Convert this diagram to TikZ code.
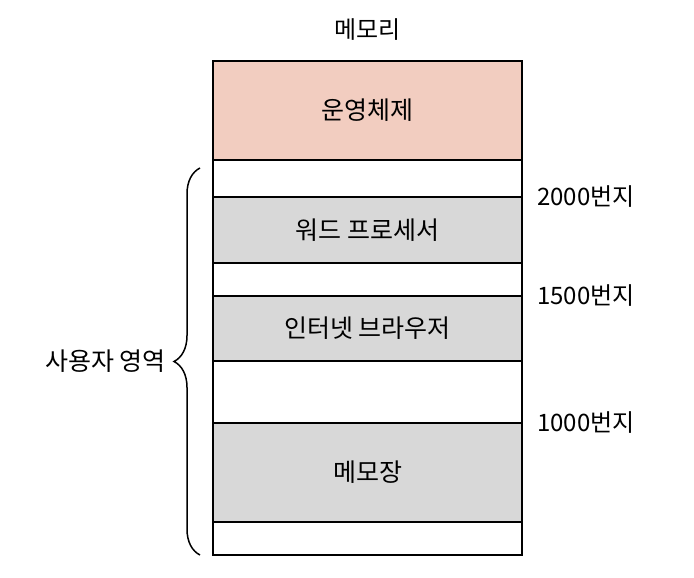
\documentclass[tikz,border=0pt]{standalone}
\usepackage{fontspec}
\setmainfont{Noto Sans CJK KR}
\usepackage{tikz}
\usetikzlibrary{decorations.pathreplacing}
\definecolor{rose}{RGB}{242,205,192}
\definecolor{gris}{RGB}{216,216,216}

\begin{document}
\begin{tikzpicture}[x=1pt,y=-1pt]
    \useasboundingbox (0,0) rectangle (694,578);
    % Styles
    \tikzstyle{case}=[draw,line width=1.5pt,minimum width=309pt,inner sep=0pt,outer sep=0pt,anchor=north,font=\fontsize{25}{30}\selectfont]
    \tikzstyle{libre}=[case]
    \tikzstyle{prog}=[case,fill=gris]
    \tikzstyle{adresse}=[anchor=west,inner sep=0pt,font=\fontsize{24}{28}\selectfont]
    \tikzstyle{accolade}=[decorate,decoration={brace,amplitude=26pt},line width=1.5pt]
    % Cases de la memoire (du haut vers le bas)
    \node[case,fill=rose,minimum height=99pt] (OS) at (367.5,61) {운영체제};
    \node[libre,minimum height=37pt] (L1) at (OS.south) {};
    \node[prog,minimum height=66pt] (Word) at (L1.south) {워드 프로세서};
    \node[libre,minimum height=33pt] (L2) at (Word.south) {};
    \node[prog,minimum height=65pt] (Web) at (L2.south) {인터넷 브라우저};
    \node[libre,minimum height=62pt] (L3) at (Web.south) {};
    \node[prog,minimum height=99pt] (Memo) at (L3.south) {메모장};
    \node[libre,minimum height=33pt] (L4) at (Memo.south) {};
    % Titre
    \node[font=\fontsize{24}{28}\selectfont] (Titre) at (367.5,30) {메모리};
    % Adresses
    \node[adresse] (A2000) at ([xshift=15pt]L1.south east) {2000번지};
    \node[adresse] (A1500) at ([xshift=15pt]L2.south east) {1500번지};
    \node[adresse] (A1000) at ([xshift=15pt]L3.south east) {1000번지};
    % Accolade
    \coordinate (AccBas) at ([xshift=-13pt]L4.south west);
    \coordinate (AccHaut) at (200,168);
    \draw[accolade] (AccBas) -- (AccHaut) node[midway,left=30pt,font=\fontsize{25}{30}\selectfont] (Zone) {사용자 영역};
\end{tikzpicture}
\end{document}
